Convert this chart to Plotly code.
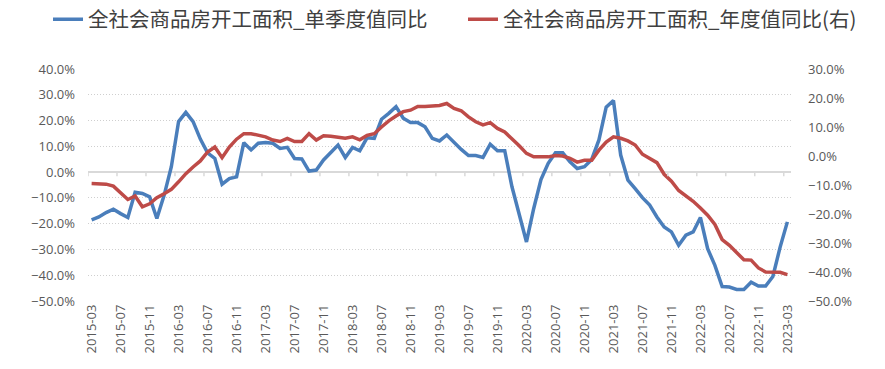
import plotly.graph_objects as go

months = [f"{y}-{m:02d}" for y in range(2015, 2024) for m in range(1, 13)]
months = months[months.index("2015-03"):months.index("2023-03") + 1]

tick_labels = months[::4]

quarterly_yoy = [
    -18.5, -17.4, -15.7, -14.4, -16.1, -17.6, -7.8, -8.3, -9.6, -18.0,
    -9.0, 2.1, 19.6, 23.2, 19.6, 12.8, 7.5, 5.3, -4.7, -2.5,
    -1.8, 11.4, 8.6, 11.2, 11.5, 11.2, 9.2, 9.6, 5.3, 5.1,
    0.4, 0.8, 4.7, 7.5, 10.5, 5.7, 9.6, 8.3, 13.3, 13.1,
    20.5, 22.8, 25.4, 20.9, 19.2, 19.2, 17.6, 13.1, 12.1, 14.4,
    11.4, 8.8, 6.4, 6.4, 5.7, 10.8, 8.3, 8.3, -5.7, -16.1,
    -27.1, -14.1, -2.9, 3.4, 7.5, 7.5, 4.0, 1.4, 2.1, 4.9,
    12.5, 25.2, 27.8, 6.6, -3.1, -6.4, -9.9, -12.8, -17.4, -21.3,
    -23.2, -28.4, -24.5, -23.2, -17.6, -29.7, -36.2, -44.4, -44.6, -45.5,
    -45.5, -42.7, -44.2, -44.2, -40.5, -29.1, -19.3,
]

annual_yoy = [
    -9.5, -9.5, -9.7, -10.4, -12.7, -15.0, -13.8, -17.5, -16.5, -14.4,
    -13.0, -11.5, -8.9, -6.1, -3.8, -1.7, 1.4, 3.1, -0.6, 3.1,
    5.8, 7.7, 7.7, 7.3, 6.6, 5.5, 5.0, 6.1, 5.0, 5.0,
    7.7, 5.5, 7.0, 6.8, 6.3, 6.1, 6.6, 5.6, 7.1, 7.7,
    10.0, 12.1, 13.8, 15.3, 15.8, 17.1, 17.1, 17.1, 17.4, 18.1,
    16.4, 15.6, 13.5, 11.8, 10.7, 11.5, 9.5, 8.3, 6.1, 3.5,
    0.9, -0.3, -0.3, -0.3, 0.2, 0.0, -0.8, -2.1, -1.5, -1.5,
    2.0, 4.8, 6.6, 6.1, 5.2, 3.8, 0.6, -1.0, -2.3, -6.3,
    -8.7, -11.9, -13.8, -15.6, -17.9, -20.4, -23.6, -28.8, -30.8, -33.4,
    -35.8, -35.9, -38.6, -40.0, -40.0, -40.1, -40.9,
]

name_q = "全社会商品房开工面积_单季度值同比"
name_a = "全社会商品房开工面积_年度值同比(右)"

BLUE = "#4A7EBB"
RED = "#BE4B48"
GRID = "#D9D9D9"
TXT = "#595959"

fig = go.Figure()
fig.add_trace(go.Scatter(x=months, y=quarterly_yoy, name=name_q, mode="lines",
                         line=dict(color=BLUE, width=3.5), legend="legend"))
fig.add_trace(go.Scatter(x=months, y=annual_yoy, name=name_a, mode="lines",
                         line=dict(color=RED, width=3.5), yaxis="y2", legend="legend2"))

# small tick marks on the zero line at category boundaries every 4 months
n = len(months)
shapes = []
for k in range(0, n + 1, 4):
    shapes.append(dict(type="line", xref="x", yref="y", x0=k - 0.5, x1=k - 0.5,
                       y0=0, y1=-1.6, line=dict(color=GRID, width=1.5)))

W, H = 885, 369
legend_font = dict(family="Noto Sans CJK SC", size=20.5, color="#404040")
fig.update_layout(
    width=W, height=H,
    margin=dict(l=88, r=94, t=69, b=68, autoexpand=False),
    paper_bgcolor="white", plot_bgcolor="white",
    font=dict(family="Open Sans, Noto Sans CJK SC", color=TXT, size=13),
    showlegend=True,
    legend=dict(orientation="h", xref="container", yref="container",
                x=48 / W, y=1 - 19.5 / H, xanchor="left", yanchor="middle",
                font=legend_font, bgcolor="rgba(0,0,0,0)"),
    legend2=dict(orientation="h", xref="container", yref="container",
                 x=463 / W, y=1 - 19.5 / H, xanchor="left", yanchor="middle",
                 font=legend_font, bgcolor="rgba(0,0,0,0)"),
    xaxis=dict(type="category", range=[-0.5, n - 0.5],
               tickmode="array", tickvals=tick_labels, ticktext=tick_labels,
               tickangle=-90, tickfont=dict(size=13, color=TXT),
               showgrid=False, showline=False, ticks="", zeroline=False),
    yaxis=dict(range=[-50, 40], dtick=10, tick0=0, tickformat=".1f", ticksuffix="%",
               showgrid=True, gridcolor="#CFCFCF", griddash="1px,2px", gridwidth=1,
               zeroline=True, zerolinecolor=GRID, zerolinewidth=2,
               ticks="", ticklabelstandoff=12, tickfont=dict(size=13, color=TXT)),
    yaxis2=dict(range=[-50, 30], dtick=10, tick0=0, tickformat=".1f", ticksuffix="%",
                overlaying="y", side="right", showgrid=False, zeroline=False,
                ticks="", ticklabelstandoff=16, tickfont=dict(size=13, color=TXT)),
    shapes=shapes,
)

fig.write_html("out.html",
               config={"displayModeBar": False},
               post_script="document.body.style.margin='0px';document.body.style.overflow='hidden';")
